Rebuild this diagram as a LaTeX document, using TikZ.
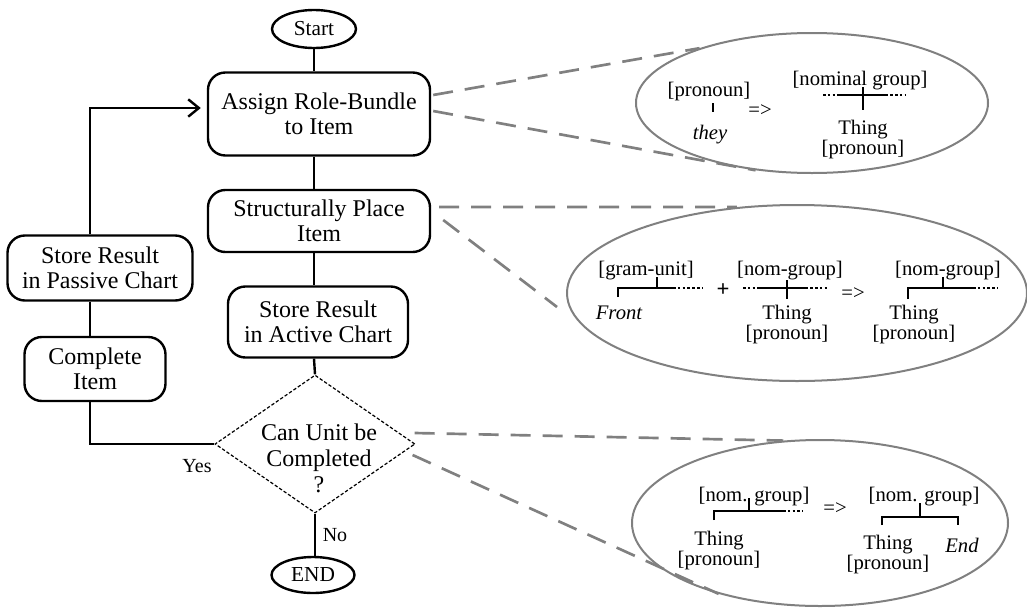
\documentclass[tikz,border=0pt]{standalone}
\usepackage{fontspec}
\setmainfont{Liberation Serif}
\usetikzlibrary{shapes.geometric,arrows.meta,calc}
\definecolor{bubblegray}{RGB}{128,128,128}

\begin{document}
\begin{tikzpicture}[x=0.75pt,y=-0.75pt,
  flow/.style={draw, line width=1.8pt},
  procbox/.style={draw, line width=1.8pt, rounded corners=13pt, align=center,
    inner sep=0pt, font=\fontsize{18}{19}\selectfont},
  terminal/.style={draw, ellipse, line width=1.8pt, inner sep=0pt,
    font=\fontsize{16}{18}\selectfont},
  decision/.style={draw, diamond, line width=0.9pt, dash pattern=on 2.5pt off 1.5pt,
    inner sep=0pt},
  decisiontext/.style={align=center, inner sep=0pt, font=\fontsize{18}{19.5}\selectfont},
  cond/.style={inner sep=1pt, font=\fontsize{15}{17}\selectfont},
  bubble/.style={draw=bubblegray, ellipse, line width=1.5pt, inner sep=0pt},
  callout/.style={draw=bubblegray, line width=2pt, dash pattern=on 15pt off 9pt},
  gram/.style={align=center, inner sep=0pt, font=\fontsize{15.5}{15}\selectfont},
  gramit/.style={gram, font=\fontsize{15.5}{15}\selectfont\itshape},
  branch/.style={line width=1.8pt},
  tail/.style={line width=1.8pt, dash pattern=on 2pt off 1.6pt},
  stub/.style={line width=2.2pt},
]
\useasboundingbox (0,0) rectangle (1027,607);

% ---------------- flow chart ----------------
\node[terminal, minimum width=63pt, minimum height=28.5pt] (start) at (314,29) {Start};
\node[procbox, minimum width=166.5pt, minimum height=62.25pt] (assign) at (319,114)
  {Assign Role-Bundle\\to Item};
\node[procbox, minimum width=166.5pt, minimum height=46.5pt] (place) at (319,221)
  {Structurally Place\\Item};
\node[procbox, minimum width=135pt, minimum height=53.25pt] (active) at (318,322)
  {Store Result\\in Active Chart};
\node[decision, minimum width=150pt, minimum height=103.5pt] (dec) at (315,444) {};
\node[decisiontext] (decq) at (319,458) {Can Unit be\\Completed\\?};
\node[terminal, minimum width=62.25pt, minimum height=27pt] (endn) at (313,575) {END};
\node[procbox, minimum width=138.75pt, minimum height=48.75pt] (passive) at (100,268)
  {Store Result\\in Passive Chart};
\node[procbox, minimum width=105.75pt, minimum height=48pt] (complete) at (95,369)
  {Complete\\Item};

\node[cond] (yes) at (197,466) {Yes};
\node[cond] (no) at (335,535) {No};

% main column
\draw[flow] (start.south) -- (start.south |- assign.north);
\draw[flow] (start.south |- assign.south) -- (start.south |- place.north);
\draw[flow] (start.south |- place.south) -- (start.south |- active.north);
\draw[flow] (start.south |- active.south) -- (dec.north);
\draw[flow] (dec.south) -- (dec.south |- endn.north);

% loop back through the passive chart
\coordinate (turn) at (90,108);
\draw[flow] (turn |- complete.south) |- (dec.west);
\draw[flow] (turn |- passive.south) -- (turn |- complete.north);
\draw[flow, -{Straight Barb[length=8pt, width=13pt]}, shorten >=4.5pt]
  (turn |- passive.north) -- (turn) -- (assign.west |- turn);

% ---------------- call-out bubbles ----------------
\node[bubble, minimum width=264pt, minimum height=105pt] (b1) at (812,103) {};
\node[bubble, minimum width=345pt, minimum height=132pt] (b2) at (797,293) {};
\node[bubble, minimum width=282pt, minimum height=124.5pt] (b3) at (820,523) {};

\coordinate (b2tail) at (557,307);
\draw[callout] ($(assign.east)+(2,-19)$) -- (b1.154);
\draw[callout] ($(assign.east)+(2,-3)$) -- (b1.230);
\draw[callout] ($(place.east)+(8,-14)$) -- (b2.125);
\draw[callout] ($(place.east)+(12,-1)$) -- (b2tail);
\draw[callout] ($(dec.east)+(-1,-11)$) -- (b3.114);
\draw[callout] ($(dec.east)+(-3,11)$) -- (b3.215);

% bubble 1: role bundle
\node[gram] (p1a) at (709,92) {{[pronoun]}};
\draw[stub] (713,103) -- (713,112);
\node[gramit] (p1b) at (710,135) {they};
\node[gram] (p1c) at (760,111) {=>};
\node[gram] (p1d) at (860,81) {{[nominal group]}};
\draw[tail] (823,95) -- (905,95);
\draw[branch] (840,95) -- (887,95);
\draw[branch] (863,87) -- (863,110);
\node[gram] (p1e) at (863,140) {Thing\\{[pronoun]}};

% bubble 2: structural placement
\node[gram] (g1) at (646,271) {{[gram-unit]}};
\draw[branch] (618,297) -- (618,288) -- (673,288);
\draw[tail] (673,288) -- (703,288);
\draw[branch] (657,277) -- (657,288);
\node[gramit] (g2) at (619,313) {Front};
\node[gram, font=\fontsize{17}{15}\selectfont\bfseries] (g3) at (723,290) {+};
\node[gram] (g4) at (790,271) {{[nom-group]}};
\draw[tail] (743,288) -- (827,288);
\draw[branch] (760,288) -- (805,288);
\draw[branch] (787,280) -- (787,299);
\node[gram] (g5) at (787,325) {Thing\\{[pronoun]}};
\node[gram] (g6) at (853,294) {=>};
\node[gram] (g7) at (948,271) {{[nom-group]}};
\draw[branch] (908,299) -- (908,288) -- (973,288);
\draw[tail] (973,288) -- (998,288);
\draw[branch] (943,277) -- (943,288);
\node[gram] (g8) at (914,325) {Thing\\{[pronoun]}};

% bubble 3: completion
\node[gram] (n1) at (754,497) {{[nom. group]}};
\draw[branch] (714,520) -- (714,511) -- (783,511);
\draw[tail] (783,511) -- (803,511);
\draw[branch] (749,498) -- (749,511);
\node[gram] (n2) at (719,551) {Thing\\{[pronoun]}};
\node[gram] (n3) at (835,509) {=>};
\node[gram] (n4) at (924,497) {{[nom. group]}};
\draw[branch] (882,525) -- (882,517) -- (958,517) -- (958,525);
\draw[branch] (920,503) -- (920,517);
\node[gram] (n5) at (888,555) {Thing\\{[pronoun]}};
\node[gramit] (n6) at (962,545) {End};
\end{tikzpicture}
\end{document}
